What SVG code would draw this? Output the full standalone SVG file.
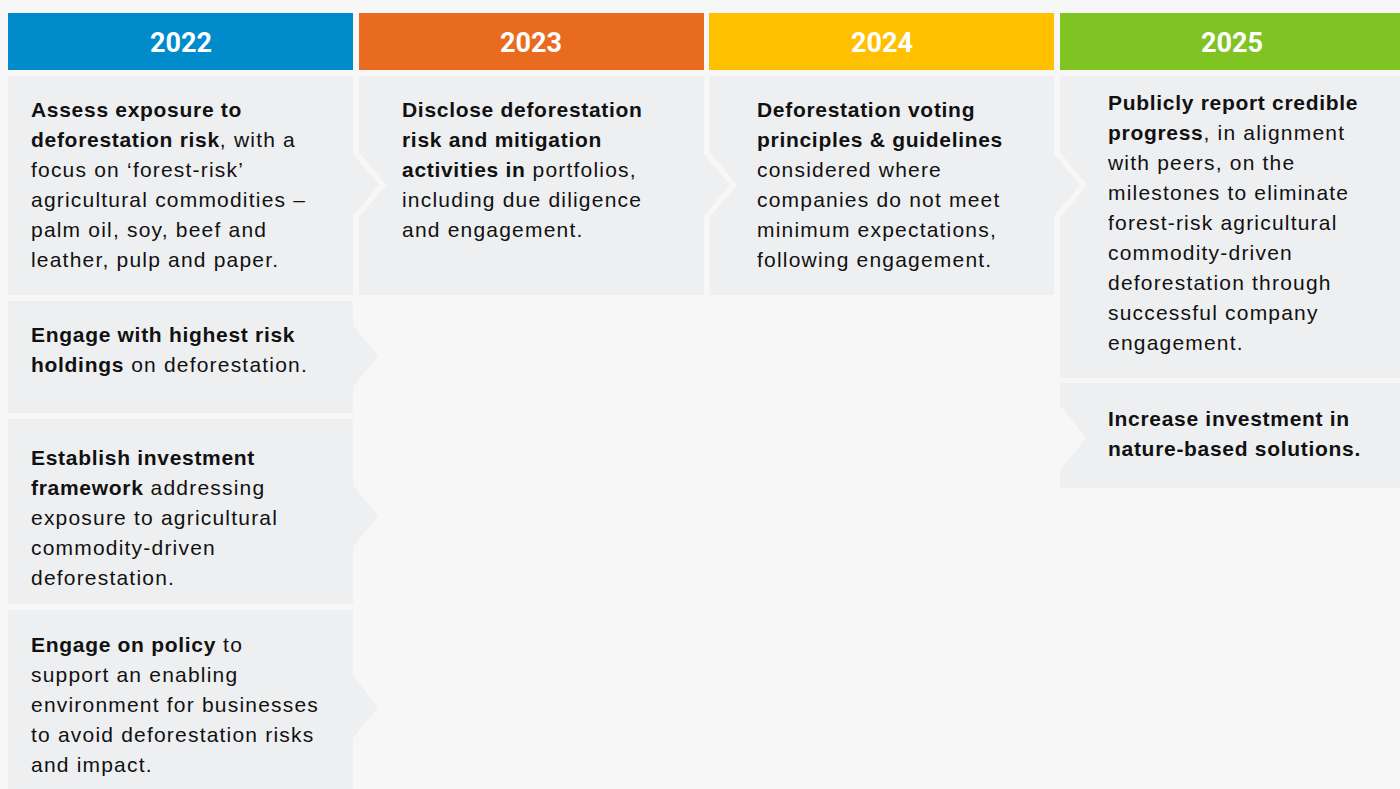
<svg xmlns="http://www.w3.org/2000/svg" width="1400" height="789" viewBox="0 0 1400 789">
<style>
.bg{fill:#f7f7f7}
.box{fill:#eeeff1}
.arr{fill:#eeeff1;stroke:#f7f7f7;stroke-width:11;paint-order:stroke}
.yr{font-family:Roboto,"Liberation Sans",sans-serif;font-weight:bold;font-size:27px;fill:#fff;text-anchor:middle}
.t{font-family:"Liberation Sans",Arial,sans-serif;font-size:21px;fill:#111;letter-spacing:1.2px}
.b{font-weight:bold;letter-spacing:0.7px}
</style>
<rect class="bg" x="0" y="0" width="1400" height="789"/>
<g id="h2022"><rect x="8" y="13" width="345" height="57" fill="#008bca"/><text class="yr" x="181" y="52">2022</text></g>
<g id="h2023"><rect x="359" y="13" width="345" height="57" fill="#e96b1f"/><text class="yr" x="531" y="52">2023</text></g>
<g id="h2024"><rect x="709" y="13" width="345" height="57" fill="#ffc000"/><text class="yr" x="882" y="52">2024</text></g>
<g id="h2025"><rect x="1060" y="13" width="340" height="57" fill="#80c423"/><text class="yr" x="1232" y="52">2025</text></g>

<g id="n2025a"><rect class="box" x="1060" y="76" width="340" height="302"/>
<text class="t"><tspan x="1108" y="110" class="b">Publicly report credible</tspan><tspan x="1108" y="140"><tspan class="b">progress</tspan>, in alignment</tspan><tspan x="1108" y="170">with peers, on the</tspan><tspan x="1108" y="200">milestones to eliminate</tspan><tspan x="1108" y="230">forest-risk agricultural</tspan><tspan x="1108" y="260">commodity-driven</tspan><tspan x="1108" y="290">deforestation through</tspan><tspan x="1108" y="320">successful company</tspan><tspan x="1108" y="350">engagement.</tspan></text></g>
<g id="n2025b"><polygon class="box" points="1060,383 1400,383 1400,488 1060,488 1060,471 1086,438 1060,405"/>
<text class="t b"><tspan x="1108" y="426">Increase investment in</tspan><tspan x="1108" y="456">nature-based solutions.</tspan></text></g>

<g id="n2024"><polygon class="arr" points="709,76 1054,76 1054,154 1080,185 1054,216 1054,295 709,295"/>
<text class="t"><tspan x="757" y="117" class="b">Deforestation voting</tspan><tspan x="757" y="147" class="b">principles &amp; guidelines</tspan><tspan x="757" y="177">considered where</tspan><tspan x="757" y="207">companies do not meet</tspan><tspan x="757" y="237">minimum expectations,</tspan><tspan x="757" y="267">following engagement.</tspan></text></g>

<g id="n2023"><polygon class="arr" points="359,76 704,76 704,154 730,185 704,216 704,295 359,295"/>
<text class="t"><tspan x="402" y="117" class="b">Disclose deforestation</tspan><tspan x="402" y="147" class="b">risk and mitigation</tspan><tspan x="402" y="177"><tspan class="b">activities in</tspan> portfolios,</tspan><tspan x="402" y="207">including due diligence</tspan><tspan x="402" y="237">and engagement.</tspan></text></g>

<g id="n2022a"><polygon class="arr" points="8,76 353,76 353,154 379,185 353,216 353,295 8,295"/>
<text class="t"><tspan x="31" y="117" class="b">Assess exposure to</tspan><tspan x="31" y="147"><tspan class="b">deforestation risk</tspan>, with a</tspan><tspan x="31" y="177">focus on ‘forest-risk’</tspan><tspan x="31" y="207">agricultural commodities –</tspan><tspan x="31" y="237">palm oil, soy, beef and</tspan><tspan x="31" y="267">leather, pulp and paper.</tspan></text></g>

<g id="n2022b"><polygon class="box" points="8,301 353,301 353,325 378,356 353,387 353,413 8,413"/>
<text class="t"><tspan x="31" y="342" class="b">Engage with highest risk</tspan><tspan x="31" y="372"><tspan class="b">holdings</tspan> on deforestation.</tspan></text></g>

<g id="n2022c"><polygon class="box" points="8,419 353,419 353,485 378,516 353,547 353,604 8,604"/>
<text class="t"><tspan x="31" y="465" class="b">Establish investment</tspan><tspan x="31" y="495"><tspan class="b">framework</tspan> addressing</tspan><tspan x="31" y="525">exposure to agricultural</tspan><tspan x="31" y="555">commodity-driven</tspan><tspan x="31" y="585">deforestation.</tspan></text></g>

<g id="n2022d"><polygon class="box" points="8,610 353,610 353,676 378,707 353,738 353,804 8,804"/>
<text class="t"><tspan x="31" y="652"><tspan class="b">Engage on policy</tspan> to</tspan><tspan x="31" y="682">support an enabling</tspan><tspan x="31" y="712">environment for businesses</tspan><tspan x="31" y="742">to avoid deforestation risks</tspan><tspan x="31" y="772">and impact.</tspan></text></g>
<g id="connectors"></g>
</svg>
